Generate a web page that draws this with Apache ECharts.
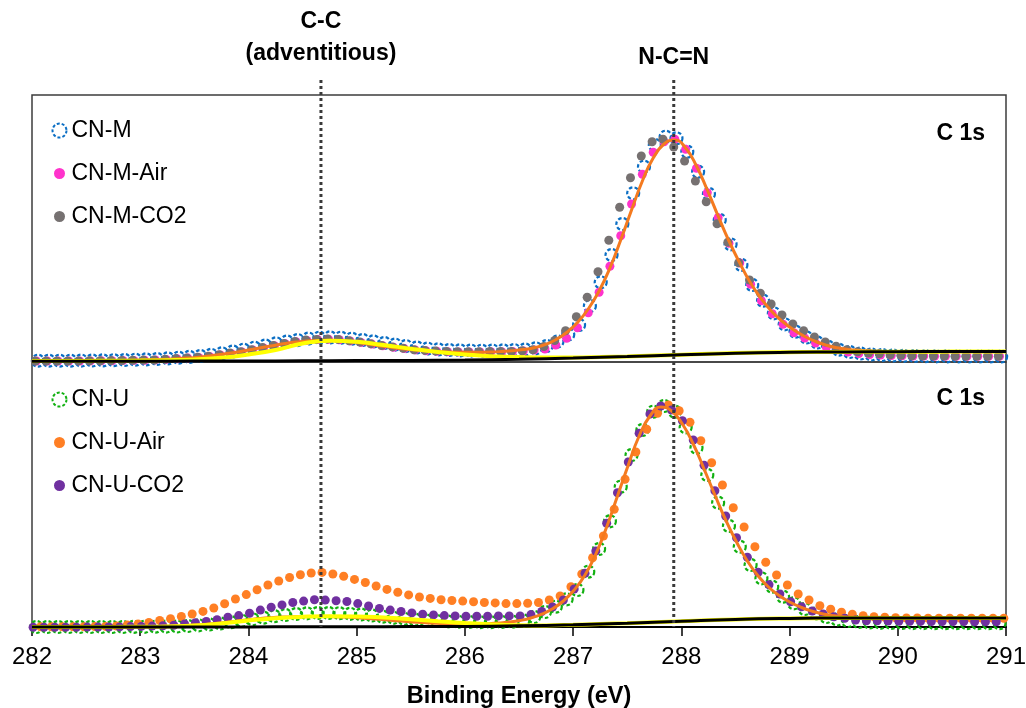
<!DOCTYPE html>
<html>
<head>
<meta charset="utf-8">
<script src="https://cdn.jsdelivr.net/npm/echarts@6/dist/echarts.min.js"></script>
<style>
html,body{margin:0;padding:0;background:#fff;}
#chart{width:1026px;height:708px;}
</style>
</head>
<body>
<div id="chart"></div>
<script>
// ---------- DATA (intensity in arbitrary units) ----------
// Energy grid of the spectra (eV), 0.1 eV steps
const energy = [
282.0,282.1,282.2,282.3,282.4,282.5,282.6,282.7,282.8,282.9,
283.0,283.1,283.2,283.3,283.4,283.5,283.6,283.7,283.8,283.9,
284.0,284.1,284.2,284.3,284.4,284.5,284.6,284.7,284.8,284.9,
285.0,285.1,285.2,285.3,285.4,285.5,285.6,285.7,285.8,285.9,
286.0,286.1,286.2,286.3,286.4,286.5,286.6,286.7,286.8,286.9,
287.0,287.1,287.2,287.3,287.4,287.5,287.6,287.7,287.8,287.9,
288.0,288.1,288.2,288.3,288.4,288.5,288.6,288.7,288.8,288.9,
289.0,289.1,289.2,289.3,289.4,289.5,289.6,289.7,289.8,289.9,
290.0,290.1,290.2,290.3,290.4,290.5,290.6,290.7,290.8,290.9];

// small energy calibration offset of each measured series (eV)
const shiftCNM = 0.055, shiftCNMAir = 0.04, shiftCNMCO2 = 0.03, shiftFitM = 0.04;
const shiftCNU = 0.04, shiftCNUAir = 0.08, shiftCNUCO2 = 0.01, shiftFitU = 0.01;

// Upper panel
const cnM = [
1.3,1.3,1.3,1.3,1.4,1.5,1.6,1.8,2.0,2.3,
2.6,3.0,3.6,4.3,5.1,6.0,7.2,8.7,10.5,12.3,
14.3,16.5,18.7,20.5,21.9,23.4,24.3,24.6,24.3,23.3,
22.0,20.6,19.0,17.4,15.9,14.5,13.4,12.6,12.0,11.6,
11.4,11.3,11.4,11.6,11.9,12.5,13.7,16.0,20.5,27.5,
37.0,56.0,79.7,107.0,138.0,168.7,195.3,217.0,225.3,223.7,
210.3,190.3,168.0,142.0,117.7,97.0,77.0,61.3,48.7,37.7,
30.3,24.5,19.5,15.3,12.3,10.0,8.5,7.5,7.0,6.5,
6.2,6.0,5.8,5.7,5.6,5.5,5.5,5.5,5.5,5.5];
const cnMAir = [
1.0,1.0,1.0,1.0,1.0,1.1,1.2,1.3,1.5,1.6,
1.8,2.1,2.6,3.2,3.9,4.6,5.6,7.0,8.6,10.1,
12.0,14.1,16.2,18.2,20.2,21.6,22.4,22.7,22.3,21.1,
19.6,17.9,16.3,14.8,13.4,12.1,11.3,10.7,10.3,10.1,
10.0,10.0,10.2,10.3,10.5,11.0,11.9,13.0,17.0,23.7,
34.3,49.3,69.7,95.7,126.3,158.0,187.7,209.7,220.3,222.7,
212.7,193.7,169.3,144.3,118.7,99.0,77.7,61.3,48.3,37.7,
29.3,24.0,19.0,14.7,12.3,10.0,8.5,7.5,7.0,6.5,
6.3,6.0,6.0,5.8,5.8,5.7,5.7,5.7,5.7,5.7];
const cnMCO2 = [
1.0,1.0,1.0,1.0,1.1,1.2,1.2,1.4,1.5,1.7,
1.9,2.0,2.7,3.4,4.1,4.7,5.8,7.2,8.9,10.3,
12.3,14.4,16.5,18.5,20.6,22.0,22.6,23.0,22.6,21.3,
19.9,18.2,16.5,15.1,13.7,12.3,11.6,10.9,10.6,10.3,
10.3,10.3,10.6,10.6,10.6,11.3,12.3,15.5,21.5,31.3,
45.3,64.7,90.3,121.7,154.7,184.3,206.0,220.3,222.7,215.0,
201.0,181.0,160.3,138.3,119.7,99.3,82.0,68.7,58.0,47.0,
38.0,31.3,25.0,20.0,15.7,12.3,10.3,9.0,8.3,7.3,
6.7,6.3,6.0,6.0,6.0,5.7,5.7,5.7,5.7,5.7];
const fitM = [
1.0,1.0,1.0,1.0,1.1,1.2,1.3,1.4,1.6,1.8,
2.0,2.3,2.7,3.2,3.9,4.8,6.0,7.4,9.0,10.8,
12.7,14.7,16.6,18.4,19.9,21.0,21.6,21.7,21.3,20.3,
19.0,17.4,15.8,14.3,13.0,11.9,11.0,10.4,10.0,9.8,
9.7,9.8,10.0,10.5,11.2,12.4,14.3,17.3,22.3,29.5,
39.5,53.0,71.0,94.0,122.0,152.0,181.0,204.0,218.0,222.0,
214.0,196.0,172.0,146.0,121.0,99.0,79.0,63.0,50.0,40.0,
32.0,25.5,20.5,16.8,14.2,12.6,11.6,11.0,10.7,10.5,
10.4,10.3,10.3,10.2,10.2,10.2,10.2,10.2,10.2,10.2];

// Lower panel
const cnU = [
1.0,1.0,1.0,1.0,1.0,1.0,1.0,1.0,1.0,1.1,
1.2,1.3,1.4,1.5,2.0,2.7,3.5,4.5,5.8,7.2,
8.7,10.3,11.8,13.0,14.0,14.7,15.0,15.0,14.8,14.2,
13.5,12.5,11.3,10.2,9.2,8.3,7.6,7.0,6.5,6.2,
6.0,5.8,5.8,6.0,6.3,7.5,11.0,16.0,21.3,28.7,
38.0,56.3,79.0,106.7,141.3,173.0,198.0,216.3,222.0,216.3,
200.7,180.3,153.0,125.3,102.0,81.3,63.0,49.7,41.3,31.3,
24.7,19.0,14.5,11.0,8.5,7.0,6.0,5.5,5.2,5.0,
5.0,4.9,4.9,4.8,4.8,4.8,4.8,4.8,4.8,4.8];
const cnUAir = [
1.2,1.2,1.2,1.2,1.3,1.4,1.6,2.0,3.0,4.1,
5.5,7.5,9.3,11.5,14.0,16.6,20.0,24.2,29.0,33.4,
38.3,43.0,47.0,50.5,53.2,55.0,55.6,54.0,51.7,48.6,
45.5,42.0,38.6,35.8,33.1,31.0,29.6,28.2,27.5,26.9,
26.2,25.5,25.1,24.4,24.4,24.8,25.5,28.0,32.0,41.3,
54.0,70.3,92.0,118.7,148.7,176.0,198.7,214.7,223.0,217.3,
205.7,187.3,165.3,143.0,120.3,101.0,81.3,65.7,53.0,43.0,
34.0,28.0,22.3,18.7,15.7,13.7,12.3,11.3,10.7,10.3,
10.0,10.0,9.7,9.7,9.7,9.7,9.7,9.7,9.7,9.7];
const cnUCO2 = [
0.8,0.8,0.8,0.8,0.8,0.9,0.9,1.0,1.1,1.4,
1.6,1.9,2.2,2.8,4.1,5.2,6.5,8.3,10.7,12.4,
14.8,17.9,20.7,23.1,25.5,26.9,28.2,27.9,27.2,26.5,
24.4,22.0,19.6,17.9,16.5,15.1,13.8,13.1,12.4,12.1,
11.7,11.7,11.7,12.1,12.1,12.1,13.4,16.5,21.0,28.0,
39.0,54.7,77.0,104.7,135.3,166.0,194.7,214.0,222.0,218.0,
207.3,188.0,162.7,137.3,112.0,90.3,70.7,55.7,43.3,34.0,
26.3,21.3,17.0,14.0,11.3,9.7,8.0,7.3,7.3,7.0,
6.8,6.7,6.6,6.5,6.5,6.4,6.4,6.3,6.3,6.3];
const fitU = [
1.0,1.0,1.0,1.0,1.0,1.0,1.1,1.1,1.2,1.3,
1.4,1.5,1.7,1.9,2.3,2.9,3.7,4.7,5.9,7.2,
8.4,9.5,10.3,10.9,11.3,11.5,11.6,11.5,11.3,10.9,
10.3,9.5,8.7,7.8,6.9,6.1,5.4,4.8,4.3,4.0,
3.9,4.0,4.3,4.9,5.9,7.5,10.0,13.8,19.2,27.0,
38.0,53.0,74.0,101.0,132.0,163.0,192.0,212.0,221.0,217.0,
204.0,184.0,159.0,133.0,108.0,86.0,67.0,52.0,40.5,32.0,
25.5,20.5,16.8,14.0,12.2,11.1,10.5,10.2,10.1,10.0,
10.0,10.0,10.0,10.0,10.0,10.0,10.0,10.0,10.0,10.0];

// Fit components: background (0.5 eV steps) and C-C component (0.25 eV steps)
const bgEnergy = [282,282.5,283,283.5,284,284.5,285,285.5,286,286.5,287,287.5,288,288.5,289,289.5,290,290.5,291];
const bgM = [0.8,0.8,0.8,0.9,1.0,1.2,1.4,1.6,2.0,2.8,4.0,5.5,7.2,8.8,9.7,10.1,10.3,10.4,10.4];
const bgU = [0.9,0.9,0.9,1.0,1.1,1.2,1.3,1.4,1.6,2.2,3.2,4.8,6.8,8.6,9.6,10.0,10.1,10.1,10.1];
const ccEnergy = [282,282.25,282.5,282.75,283,283.25,283.5,283.75,284,284.25,284.5,284.75,285,285.25,285.5,285.75,286,286.25,286.5,286.75,287,287.25,287.5,287.75,288,288.25,288.5,288.75,289,289.25,289.5,289.75,290,290.25,290.5,290.75,291];
const ccM = [1.0,1.0,1.1,1.2,1.4,1.8,2.6,4.2,7.5,12.0,18.5,21.3,20.2,17.0,13.3,10.0,7.4,5.8,4.9,4.5,4.6,5.0,5.6,6.4,7.3,8.2,8.9,9.4,9.8,10.0,10.1,10.2,10.3,10.3,10.4,10.4,10.4];
const ccU = [1.0,1.0,1.0,1.1,1.3,1.6,2.4,4.5,7.5,9.8,11.2,11.8,11.6,10.5,8.8,6.8,5.0,3.6,2.8,2.6,3.2,4.0,4.8,5.8,6.8,7.8,8.6,9.2,9.6,9.8,10.0,10.0,10.1,10.1,10.1,10.1,10.1];

const xTicks = [282,283,284,285,286,287,288,289,290,291];
const peakLines = [{x: 284.67, label: ['C-C', '(adventitious)']}, {x: 287.93, label: ['N-C=N']}];
const panelLabel = 'C 1s';

// ---------- STYLE ----------
const FONT = "'Liberation Sans', Arial, Helvetica, sans-serif";
const BLUE = '#0A6EC4', PINK = '#FF33CC', GRAY = '#767171';
const GREEN = '#10B010', ORANGE = '#FF7F24', PURPLE = '#7030A0';
const FIT = '#F47A1F';

function pts(vals, shift) { return vals.map((v, i) => [+(energy[i] + shift).toFixed(3), v]); }
function pairs(xs, ys) { return ys.map((v, i) => [xs[i], v]); }

function ring(name, vals, shift, color, axis) {
  return {name, type: 'scatter', xAxisIndex: axis, yAxisIndex: axis, data: pts(vals, shift),
    symbol: 'circle', symbolSize: 12, clip: false,
    itemStyle: {color: 'rgba(0,0,0,0)', opacity: 1, borderColor: color, borderWidth: 2.2, borderType: [3.5, 2.3]}};
}
function dots(name, vals, shift, color, axis) {
  return {name, type: 'scatter', xAxisIndex: axis, yAxisIndex: axis, data: pts(vals, shift),
    symbol: 'circle', symbolSize: 9, clip: false, itemStyle: {color, opacity: 1}};
}
function line(data, color, width, axis) {
  return {type: 'line', xAxisIndex: axis, yAxisIndex: axis, data, showSymbol: false, symbol: 'none',
    smooth: true, clip: false, lineStyle: {color, width}, silent: true};
}

const chart = echarts.init(document.getElementById('chart'), null, {renderer: 'canvas'});

const xAxisCommon = {type: 'value', min: 282, max: 291, interval: 1, splitLine: {show: false}};

const legendText = {fontSize: 23, color: '#000', fontFamily: FONT};
function ringIcon(name, color) {
  return {name, icon: 'circle', itemStyle: {color: 'rgba(0,0,0,0)', opacity: 1, borderColor: color, borderWidth: 2, borderType: [3, 2]}};
}
function dotIcon(name, color) {
  return {name, icon: 'circle', itemStyle: {color, opacity: 1, borderColor: '#fff', borderWidth: 3}};
}

const option = {
  animation: false,
  backgroundColor: '#fff',
  grid: [
    {left: 32, right: 20, top: 95, height: 267, show: true, outerBoundsMode: 'none', containLabel: false,
      borderColor: '#3c3c3c', borderWidth: 1.5, backgroundColor: 'rgba(0,0,0,0)'},
    {left: 32, right: 20, top: 362, height: 265, show: true, outerBoundsMode: 'none', containLabel: false,
      borderColor: '#3c3c3c', borderWidth: 1.5, backgroundColor: 'rgba(0,0,0,0)'}
  ],
  xAxis: [
    Object.assign({gridIndex: 0, axisLine: {show: false}, axisTick: {show: false}, axisLabel: {show: false}}, xAxisCommon),
    Object.assign({gridIndex: 1,
      axisLine: {show: true, onZero: false, lineStyle: {color: '#000', width: 2}},
      axisTick: {show: true, inside: false, length: 9, lineStyle: {color: '#000', width: 1.5}},
      axisLabel: {show: true, fontSize: 24, color: '#000', fontFamily: FONT, margin: 18,
        formatter: v => xTicks.includes(v) ? String(v) : ''},
      name: 'Binding Energy (eV)', nameLocation: 'middle', nameGap: 58,
      nameTextStyle: {fontSize: 23.5, fontWeight: 'bold', color: '#000', fontFamily: FONT}}, xAxisCommon)
  ],
  yAxis: [
    {gridIndex: 0, type: 'value', min: 0, max: 267, show: false},
    {gridIndex: 1, type: 'value', min: 1, max: 266, show: false}
  ],
  legend: [
    {data: [ringIcon('CN-M', BLUE), dotIcon('CN-M-Air', PINK), dotIcon('CN-M-CO2', GRAY)],
      orient: 'vertical', left: 46, top: 114, itemWidth: 14, itemHeight: 14, itemGap: 20,
      textStyle: legendText, selectedMode: false},
    {data: [ringIcon('CN-U', GREEN), dotIcon('CN-U-Air', ORANGE), dotIcon('CN-U-CO2', PURPLE)],
      orient: 'vertical', left: 46, top: 383, itemWidth: 14, itemHeight: 14, itemGap: 20,
      textStyle: legendText, selectedMode: false}
  ],
  series: [
    line(pts(fitM, shiftFitM), FIT, 3, 0),
    line(pairs(ccEnergy, ccM), '#FFFF00', 4, 0),
    line(pairs(bgEnergy, bgM), '#000', 3, 0),
    ring('CN-M', cnM, shiftCNM, BLUE, 0),
    dots('CN-M-Air', cnMAir, shiftCNMAir, PINK, 0),
    dots('CN-M-CO2', cnMCO2, shiftCNMCO2, GRAY, 0),

    line(pts(fitU, shiftFitU), FIT, 3, 1),
    line(pairs(ccEnergy, ccU), '#FFFF00', 4, 1),
    line(pairs(bgEnergy, bgU), '#000', 3, 1),
    ring('CN-U', cnU, shiftCNU, GREEN, 1),
    dots('CN-U-Air', cnUAir, shiftCNUAir, ORANGE, 1),
    dots('CN-U-CO2', cnUCO2, shiftCNUCO2, PURPLE, 1)
  ]
};
chart.setOption(option);

// Peak position lines and labels, placed through the axis scale
const gfx = [];
peakLines.forEach(p => {
  const px = chart.convertToPixel({xAxisIndex: 1}, p.x);
  gfx.push({type: 'line', z: 100, silent: true,
    shape: {x1: px, y1: 80, x2: px, y2: 627},
    style: {stroke: '#3a3a3a', lineWidth: 3, lineDash: [3, 3]}});
  const n = p.label.length;
  p.label.forEach((t, i) => {
    const yc = (n === 2) ? (i === 0 ? 22 : 54) : 58;
    gfx.push({type: 'text', z: 100, silent: true, x: px, y: yc,
      style: {text: t, fontSize: 23, fontWeight: 'bold', fill: '#000', fontFamily: FONT,
        textAlign: 'center', textVerticalAlign: 'middle'}});
  });
});
const xr = chart.convertToPixel({xAxisIndex: 1}, 291);
[134, 399].forEach(yc => {
  gfx.push({type: 'text', z: 100, silent: true, x: xr - 21, y: yc,
    style: {text: panelLabel, fontSize: 23, fontWeight: 'bold', fill: '#000', fontFamily: FONT,
      textAlign: 'right', textVerticalAlign: 'middle'}});
});
chart.setOption({graphic: gfx});
</script>
</body>
</html>
